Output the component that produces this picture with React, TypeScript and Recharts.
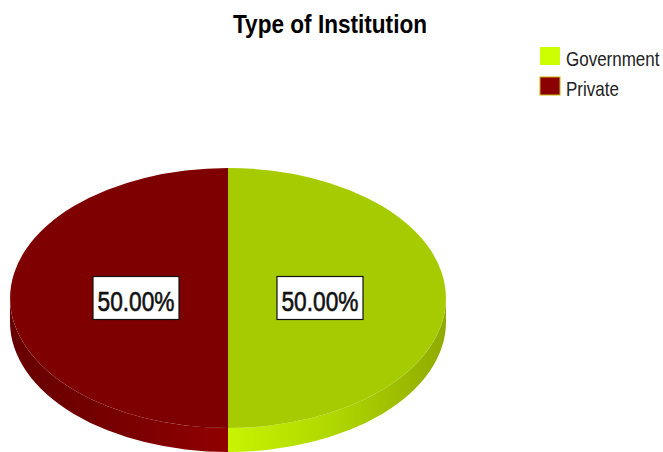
import React from 'react';
import { PieChart, Pie, Cell, Legend, Customized } from 'recharts';

const categories = ['Government', 'Private'];
const values = [50, 50];
const percentLabels = ['50.00%', '50.00%'];
const topColors = ['#a6cc00', '#7f0000'];
const legendColors = ['#ccff00', '#8b0000'];
const chartTitle = 'Type of Institution';

const data = categories.map((name, i) => ({ name, value: values[i], label: percentLabels[i] }));

const FONT = '"Liberation Sans", Arial, Helvetica, sans-serif';
const RY = 130 / 218;
const DEPTH = 24;

function pt(cx: number, cy: number, rx: number, ry: number, a: number) {
  const r = (a * Math.PI) / 180;
  return [cx + rx * Math.cos(r), cy - ry * Math.sin(r)];
}

function Sector3D(props: any) {
  const { cx, cy, outerRadius, startAngle, endAngle, fill } = props;
  const rx = outerRadius;
  const ry = outerRadius * RY;
  const [x1, y1] = pt(cx, cy, rx, ry, startAngle);
  const [x2, y2] = pt(cx, cy, rx, ry, endAngle);
  const delta = endAngle - startAngle;
  const large = Math.abs(delta) > 180 ? 1 : 0;
  const sweep = delta < 0 ? 1 : 0;
  const top = `M${cx},${cy} L${x1},${y1} A${rx},${ry} 0 ${large} ${sweep} ${x2},${y2} Z`;
  const lo = Math.min(startAngle, endAngle);
  const hi = Math.max(startAngle, endAngle);
  const sides: string[] = [];
  for (let k = -2; k <= 2; k++) {
    const a = 180 + 360 * k;
    const b = 360 + 360 * k;
    const s = Math.max(lo, a);
    const e = Math.min(hi, b);
    if (e > s) {
      const [sx, sy] = pt(cx, cy, rx, ry, s);
      const [ex, ey] = pt(cx, cy, rx, ry, e);
      const lg = e - s > 180 ? 1 : 0;
      sides.push(
        `M${sx},${sy} A${rx},${ry} 0 ${lg} 0 ${ex},${ey} L${ex},${ey + DEPTH} A${rx},${ry} 0 ${lg} 1 ${sx},${sy + DEPTH} Z`
      );
    }
  }
  const gid = 'sideGrad';
  return (
    <g>
      <defs>
        <linearGradient id={gid} gradientUnits="userSpaceOnUse" x1={cx - rx} y1={0} x2={cx + rx} y2={0}>
          <stop offset="0" stopColor="#660000" />
          <stop offset="0.2" stopColor="#740000" />
          <stop offset="0.5" stopColor="#900000" />
          <stop offset="0.5" stopColor="#c8f400" />
          <stop offset="0.75" stopColor="#aed600" />
          <stop offset="1" stopColor="#90aa00" />
        </linearGradient>
      </defs>
      {sides.map((d, i) => (
        <path key={i} d={d} fill={`url(#${gid})`} stroke="none" />
      ))}
      <path d={top} fill={fill} stroke="none" />
    </g>
  );
}

function renderLabel(props: any) {
  const { cx, cy, midAngle, outerRadius, index } = props;
  const rx = outerRadius * 0.422;
  const ry = outerRadius * RY * 0.422;
  const r = (midAngle * Math.PI) / 180;
  const x = cx + rx * Math.cos(r);
  const y = cy - ry * Math.sin(r);
  const w = 86;
  const h = 43;
  return (
    <g key={`lbl-${index}`}>
      <rect x={x - w / 2} y={y - h / 2} width={w} height={h} fill="#ffffff" stroke="#111111" strokeWidth={1.2} />
      <text
        x={x - 38.5}
        y={y + 13}
        fontFamily={FONT}
        fontSize={28}
        fill="#111111"
        stroke="#111111"
        strokeWidth={0.6}
        textLength={77}
        lengthAdjust="spacingAndGlyphs"
      >
        {data[index].label}
      </text>
    </g>
  );
}

function renderLegend() {
  return (
    <svg width={128} height={62} style={{ display: 'block', overflow: 'visible' }}>
      {categories.map((c, i) => (
        <g key={c}>
          <rect
            x={5}
            y={7 + i * 30}
            width={20}
            height={18}
            fill={legendColors[i]}
            stroke={i === 1 ? '#c8b400' : 'none'}
            strokeWidth={1}
          />
          <text
            x={0}
            y={0}
            transform={`translate(31, ${26 + i * 30}) scale(1, 1.14)`}
            fontFamily={FONT}
            fontSize={17}
            fill="#222222"
          >
            {c}
          </text>
        </g>
      ))}
    </svg>
  );
}

function Title() {
  return (
    <text
      x={233}
      y={33}
      fontFamily={FONT}
      fontSize={25}
      fontWeight="bold"
      fill="#000000"
      textLength={194}
      lengthAdjust="spacingAndGlyphs"
    >
      {chartTitle}
    </text>
  );
}

export default function App() {
  return (
    <div style={{ position: 'absolute', left: 0, top: 0, width: 663, height: 452, background: '#ffffff', overflow: 'hidden' }}>
      <PieChart width={663} height={452} margin={{ top: 0, right: 0, bottom: 0, left: 0 }}>
        <Customized component={Title} />
        <Pie
          data={data}
          dataKey="value"
          nameKey="name"
          cx={228}
          cy={298}
          outerRadius={218}
          innerRadius={0}
          startAngle={90}
          endAngle={-270}
          stroke="none"
          isAnimationActive={false}
          shape={Sector3D}
          label={renderLabel}
          labelLine={false}
        >
          {data.map((d, i) => (
            <Cell key={d.name} fill={topColors[i]} />
          ))}
        </Pie>
        <Legend
          content={renderLegend}
          wrapperStyle={{ position: 'absolute', left: 535, top: 40, width: 128, height: 62 }}
        />
      </PieChart>
    </div>
  );
}
